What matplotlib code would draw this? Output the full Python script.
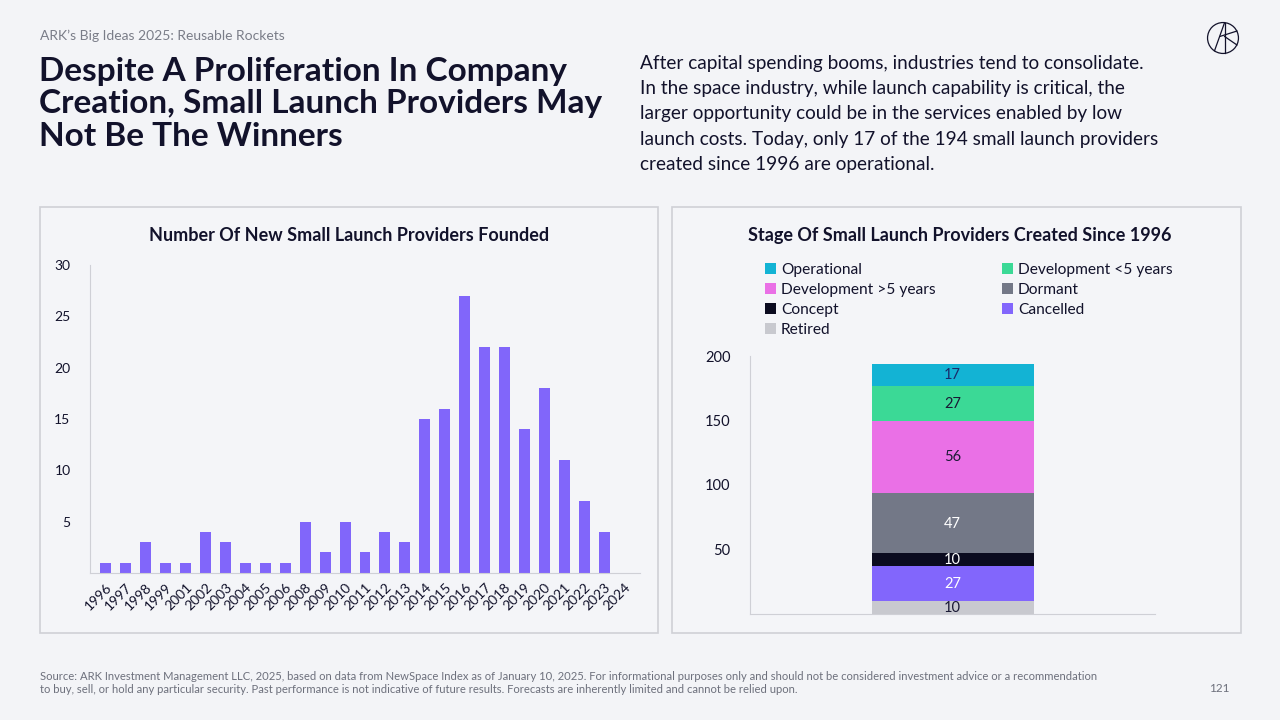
import matplotlib.pyplot as plt
from matplotlib.patches import Rectangle, Circle

plt.rcParams['font.family'] = ['Lato', 'DejaVu Sans']

# left chart data
years = ['1996', '1997', '1998', '1999', '2001', '2002', '2003', '2004', '2005', '2006',
         '2008', '2009', '2010', '2011', '2012', '2013', '2014', '2015', '2016', '2017',
         '2018', '2019', '2020', '2021', '2022', '2023', '2024']
founded = [1, 1, 3, 1, 1, 4, 3, 1, 1, 1,
           5, 2, 5, 2, 4, 3, 15, 16, 27, 22,
           22, 14, 18, 11, 7, 4, 0]

# right chart data (bottom to top)
stages = ['Retired', 'Cancelled', 'Concept', 'Dormant',
          'Development >5 years', 'Development <5 years', 'Operational']
stage_counts = [10, 27, 10, 47, 56, 27, 17]
stage_colors = ['#c8c9cf', '#8266fc', '#0b0b1f', '#737887', '#ea70e6', '#3bd996', '#13b3d4']
label_colors = ['#1a1a35', 'white', 'white', 'white', '#1a1a35', '#1a1a35', '#1a2a6a']

bg = '#f3f4f7'
dark = '#12122b'
bar_color = '#8166fa'

fig = plt.figure(figsize=(12.8, 7.2), dpi=100, facecolor=bg)

W, H = 1280, 720
def fx(x): return x / W
def fy(y): return 1 - y / H

# header
fig.text(fx(40), fy(36), 'ARK\u2019s Big Ideas 2025: Reusable Rockets', fontsize=10,
         color='#7a7d88', va='center', ha='left')
fig.text(fx(39), fy(104), 'Despite A Proliferation In Company\nCreation, Small Launch Providers May\nNot Be The Winners',
         fontsize=24, fontweight='bold', color=dark, va='center', ha='left', linespacing=1.15)
fig.text(fx(640), fy(114), 'After capital spending booms, industries tend to consolidate.\n'
         'In the space industry, while launch capability is critical, the\n'
         'larger opportunity could be in the services enabled by low\n'
         'launch costs. Today, only 17 of the 194 small launch providers\n'
         'created since 1996 are operational.',
         fontsize=13.7, color=dark, va='center', ha='left', linespacing=1.6)

# logo
lax = fig.add_axes([fx(1206), fy(55), fx(34), 34 / H])
lax.set_aspect('equal')
lax.set_xlim(-1.1, 1.1)
lax.set_ylim(-1.1, 1.1)
lax.axis('off')
lax.add_patch(Circle((0, 0), 1, fill=False, edgecolor=dark, lw=0.9))
for xs, ys in [([-0.55, 0.1], [-0.83, 0.99]), ([0.1, 0.1], [0.99, -1.0]),
               ([0.1, 0.9], [0.1, -0.45]), ([-0.2, 0.9], [0.1, 0.45])]:
    lax.plot(xs, ys, color=dark, lw=0.9)

# panels
for (x0, x1) in [(40, 658), (672, 1241)]:
    fig.patches.append(Rectangle((fx(x0), fy(633)), fx(x1 - x0), (633 - 207) / H,
                                 transform=fig.transFigure, facecolor='#f4f5f8',
                                 edgecolor='#cfd0d6', lw=1.2, zorder=-10))

fig.text(fx(349), fy(236), 'Number Of New Small Launch Providers Founded', fontsize=13,
         fontweight='bold', color=dark, ha='center', va='center')
fig.text(fx(960), fy(236), 'Stage Of Small Launch Providers Created Since 1996', fontsize=13,
         fontweight='bold', color=dark, ha='center', va='center')

# left chart
ax1 = fig.add_axes([fx(90), fy(573), fx(550), (573 - 265) / H])
ax1.set_facecolor('none')
x = range(len(years))
ax1.bar(x, founded, width=0.55, color=bar_color)
ax1.set_ylim(0, 30)
ax1.set_xlim(-0.8, len(years) - 0.2)
ax1.set_yticks([5, 10, 15, 20, 25, 30])
ax1.set_xticks(list(x))
ax1.set_xticklabels(years, rotation=45, ha='right', rotation_mode='anchor')
ax1.tick_params(length=0, labelsize=10, colors=dark)
ax1.tick_params(axis='y', pad=14)
ax1.tick_params(axis='x', pad=6)
for s in ['top', 'right']:
    ax1.spines[s].set_visible(False)
for s in ['left', 'bottom']:
    ax1.spines[s].set_color('#cfd0d6')

# right chart
ax2 = fig.add_axes([fx(750), fy(614), fx(405), (614 - 356) / H])
ax2.set_facecolor('none')
bottom = 0
handles = {}
for name, val, col, lc in zip(stages, stage_counts, stage_colors, label_colors):
    b = ax2.bar(0, val, bottom=bottom, width=0.8, color=col, label=name)
    handles[name] = b
    ax2.text(0, bottom + val / 2 - 0.5, str(val), ha='center', va='center', fontsize=10.5, color=lc)
    bottom += val
ax2.set_xlim(-1, 1)
ax2.set_ylim(0, 200)
ax2.set_yticks([50, 100, 150, 200])
ax2.set_xticks([])
ax2.tick_params(length=0, labelsize=10.5, colors=dark, pad=14)
for s in ['top', 'right']:
    ax2.spines[s].set_visible(False)
for s in ['left', 'bottom']:
    ax2.spines[s].set_color('#cfd0d6')

order = ['Operational', 'Development >5 years', 'Concept', 'Retired',
         'Development <5 years', 'Dormant', 'Cancelled']
fig.legend([handles[n] for n in order], order, ncol=2, loc='upper left',
           bbox_to_anchor=(fx(759), fy(257)), frameon=False, fontsize=11.2,
           handlelength=0.7, handleheight=0.7, handletextpad=0.3,
           columnspacing=4.3, labelspacing=0.38, labelcolor=dark, borderaxespad=0)

# footer
fig.text(fx(40), fy(683), 'Source: ARK Investment Management LLC, 2025, based on data from NewSpace Index as of January 10, 2025. '
         'For informational purposes only and should not be considered investment advice or a recommendation\n'
         'to buy, sell, or hold any particular security. Past performance is not indicative of future results. '
         'Forecasts are inherently limited and cannot be relied upon.',
         fontsize=8.1, color='#6d707c', va='center', ha='left', linespacing=1.25)
fig.text(fx(1230), fy(688), '121', fontsize=8.5, color='#6d707c', va='center', ha='right')

fig.savefig('out.png', dpi=100, facecolor=bg)
